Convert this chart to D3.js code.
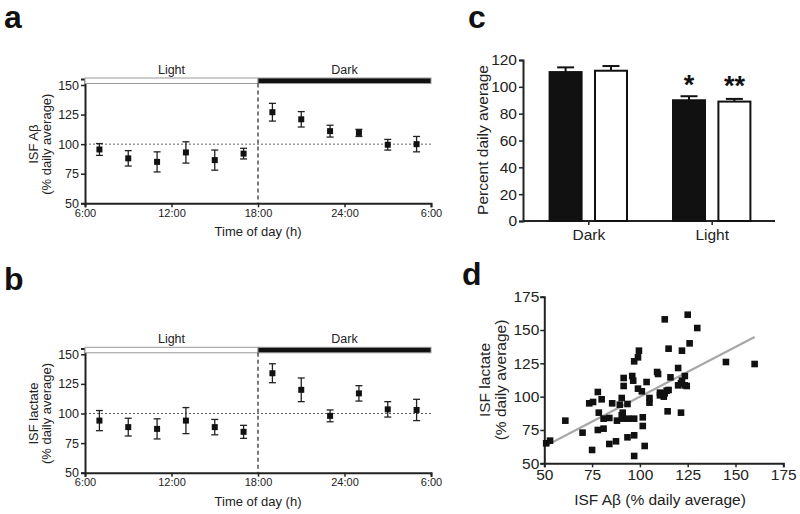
<!doctype html>
<html lang="en">
<head>
<meta charset="utf-8">
<title>ISF Abeta and lactate diurnal</title>
<script src="https://d3js.org/d3.v7.min.js"></script>
<style>
  body { margin: 0; background: #fff; }
  svg { font-family: "Liberation Sans", Arial, sans-serif; }
  .axis path, .axis line { stroke: #222; }
  .axis text { fill: #222; }
</style>
</head>
<body>
<div id="chart"></div>
<script>
// --- panel a / b : hourly time course ---
var hours = [7, 9, 11, 13, 15, 17, 19, 21, 23, 25, 27, 29];
var abMean = [95.5, 88, 85, 93, 86.5, 92, 127, 121, 111, 109.5, 99.5, 100];
var abErr = [5, 6.5, 8.5, 9, 8.5, 4.5, 7.5, 6.5, 5, 3, 4.5, 6.5];
var lacMean = [94, 88.5, 87, 94, 88.5, 84.5, 134, 120, 98, 117, 103.5, 103];
var lacErr = [8.5, 7.5, 8.5, 11, 6.5, 5.5, 8, 10, 5, 6.5, 6.5, 9];
var timeTicks = [6, 12, 18, 24, 30];
var pctTicks = [50, 75, 100, 125, 150];
var phaseNames = ["Light", "Dark"];
var phaseStart = [6, 18];
var phaseEnd = [18, 30];

// --- panel c : light/dark averages ---
var groups = ["Dark", "Light"];
var barSeries = ["ab", "lac"];
var abPhaseMean = [111, 90];
var abPhaseErr = [3.5, 3];
var lacPhaseMean = [112, 89];
var lacPhaseErr = [3.5, 2];
var abStars = ["", "*"];
var lacStars = ["", "**"];
var barTicks = [0, 20, 40, 60, 80, 100, 120];

// --- panel d : correlation ---
var scatterAb = [51, 53, 61, 70, 73.5, 75.5, 75, 78, 78.5, 78, 80, 81, 81, 84, 84, 85.5, 87.5, 88, 89.5, 90.5,
  90.5, 91, 91.5, 91.5, 91, 93.5, 93.5, 94, 96, 96.5, 97, 97, 97, 97, 99, 99.5, 99, 101, 101.5, 101.5,
  102.5, 103.5, 105, 105, 109, 109.5, 110.5, 110.5, 112.5, 113, 113, 114, 114.5, 115, 115, 116, 120, 120, 121.5, 122,
  123.5, 121.5, 122, 123.5, 124.5, 125, 126, 130, 145, 160];
var scatterLac = [65, 67, 82, 73, 95, 96, 60, 103.5, 88, 75, 98, 83.5, 76, 84, 64.5, 95, 66.5, 82, 94, 99,
  86, 83.5, 114, 108, 88, 69.5, 94.5, 83.5, 115.5, 112, 126.5, 83.5, 71, 55.5, 129.5, 134.5, 106, 104, 84.5, 78,
  63, 111, 99, 95.5, 118.5, 117, 103, 101, 100, 158, 102.5, 104.5, 89, 136, 105, 114.5, 121.5, 108.5, 110, 112,
  115.5, 88, 134.5, 108.5, 108, 161.5, 140, 151.5, 126, 124.5];
var fitAb = [51, 160];
var fitLac = [63.3, 144.8];
var scatterTicks = [50, 75, 100, 125, 150, 175];

var svg = d3.select("#chart").append("svg")
    .attr("width", 800)
    .attr("height", 514);

// panel letters
[["a", 4, 28], ["b", 4, 290], ["c", 468, 28], ["d", 462, 285]].forEach(function(l) {
  svg.append("text").attr("x", l[1]).attr("y", l[2])
    .style("font-size", "32px").style("font-weight", "bold").attr("fill", "#111")
    .text(l[0]);
});

function styleAxis(g, w) {
  g.attr("class", "axis");
  g.select(".domain").attr("stroke-width", w);
  g.selectAll(".tick line").attr("stroke-width", 1.5);
}

function timePanel(y150, y50, mean, err, label) {
  var x = d3.scaleLinear().domain([6, 30]).range([85, 431]);
  var k = (y50 - y150) / 100;
  var y = d3.scaleLinear().domain([50, 155]).range([y50, y150 - 5 * k]);
  var barTop = y150 - 7, barH = 5.5;

  var xAxis = d3.axisBottom(x).tickValues(timeTicks).tickSize(4).tickPadding(2)
    .tickFormat(function(h) { return (h > 24 ? h - 24 : h) + ":00"; });
  var gx = svg.append("g").attr("transform", "translate(0," + y50 + ")").call(xAxis);
  styleAxis(gx, 2);
  gx.selectAll("text").style("font-size", "11px");

  var yAxis = d3.axisLeft(y).tickValues(pctTicks).tickSize(4).tickPadding(2);
  var gy = svg.append("g").attr("transform", "translate(85,0)").call(yAxis);
  styleAxis(gy, 2);
  gy.selectAll("text").style("font-size", "12.5px");

  // light/dark bar
  phaseNames.forEach(function(p, i) {
    svg.append("rect")
      .attr("x", x(phaseStart[i])).attr("y", barTop)
      .attr("width", x(phaseEnd[i]) - x(phaseStart[i])).attr("height", barH)
      .attr("fill", i === 0 ? "#fff" : "#111")
      .attr("stroke", "#999").attr("stroke-width", 1);
    svg.append("text")
      .attr("x", (x(phaseStart[i]) + x(phaseEnd[i])) / 2).attr("y", barTop - 4)
      .attr("text-anchor", "middle").style("font-size", "12.5px").attr("fill", "#222")
      .text(p);
  });

  // reference lines
  svg.append("line")
    .attr("x1", x(6)).attr("x2", x(30)).attr("y1", y(100)).attr("y2", y(100))
    .attr("stroke", "#333").attr("stroke-width", 0.8).attr("stroke-dasharray", "2,2");
  svg.append("line")
    .attr("x1", x(18)).attr("x2", x(18)).attr("y1", barTop + barH).attr("y2", y50)
    .attr("stroke", "#222").attr("stroke-width", 1.2).attr("stroke-dasharray", "4,3");

  // error bars + markers
  var g = svg.append("g");
  hours.forEach(function(h, i) {
    var cx = x(h);
    g.append("line").attr("x1", cx).attr("x2", cx)
      .attr("y1", y(mean[i] + err[i])).attr("y2", y(mean[i] - err[i]))
      .attr("stroke", "#222").attr("stroke-width", 1.3);
    [mean[i] + err[i], mean[i] - err[i]].forEach(function(v) {
      g.append("line").attr("x1", cx - 3.5).attr("x2", cx + 3.5)
        .attr("y1", y(v)).attr("y2", y(v))
        .attr("stroke", "#222").attr("stroke-width", 1.3);
    });
    g.append("rect").attr("x", cx - 3).attr("y", y(mean[i]) - 3)
      .attr("width", 6).attr("height", 6).attr("fill", "#111");
  });

  // labels
  svg.append("text").attr("x", 258).attr("y", y50 + 33)
    .attr("text-anchor", "middle").style("font-size", "13px").attr("fill", "#222")
    .text("Time of day (h)");
  var cy = (y150 + y50) / 2;
  svg.append("text").attr("transform", "translate(38," + cy + ") rotate(-90)")
    .attr("text-anchor", "middle").style("font-size", "13px").attr("fill", "#222")
    .text(label);
  svg.append("text").attr("transform", "translate(51," + cy + ") rotate(-90)")
    .attr("text-anchor", "middle").style("font-size", "13px").attr("fill", "#222")
    .text("(% daily average)");
}

timePanel(85, 203.3, abMean, abErr, "ISF Aβ");
timePanel(354.3, 472.7, lacMean, lacErr, "ISF lactate");

// ---------- panel c ----------
(function() {
  var x0 = d3.scalePoint().domain(groups).range([588.3, 711.7]);
  var x1 = d3.scaleBand().domain(barSeries).range([-38.7, 38.7]).paddingInner(0.295);
  var y = d3.scaleLinear().domain([0, 120]).range([221, 60]);

  var gx = svg.append("g").attr("transform", "translate(0,221)")
    .call(d3.axisBottom(x0).tickSize(4).tickPadding(4));
  gx.select(".domain").attr("d", "M523,0H775");
  styleAxis(gx, 2);
  gx.selectAll("text").style("font-size", "15.5px");

  var gy = svg.append("g").attr("transform", "translate(523,0)")
    .call(d3.axisLeft(y).tickValues(barTicks).tickSize(4).tickPadding(2));
  styleAxis(gy, 2);
  gy.selectAll("text").style("font-size", "15.5px");

  var series = [
    { key: "ab", mean: abPhaseMean, err: abPhaseErr, stars: abStars, fill: "#111" },
    { key: "lac", mean: lacPhaseMean, err: lacPhaseErr, stars: lacStars, fill: "#fff" }
  ];
  series.forEach(function(s) {
    groups.forEach(function(gname, i) {
      var bx = x0(gname) + x1(s.key), bw = x1.bandwidth();
      var cx = bx + bw / 2;
      var top = y(s.mean[i] + s.err[i]);
      svg.append("line").attr("x1", cx).attr("x2", cx)
        .attr("y1", y(s.mean[i])).attr("y2", top)
        .attr("stroke", "#111").attr("stroke-width", 2);
      svg.append("line").attr("x1", cx - 8.5).attr("x2", cx + 8.5)
        .attr("y1", top).attr("y2", top)
        .attr("stroke", "#111").attr("stroke-width", 2);
      svg.append("rect").attr("x", bx).attr("y", y(s.mean[i]))
        .attr("width", bw).attr("height", y(0) - y(s.mean[i]))
        .attr("fill", s.fill).attr("stroke", "#111").attr("stroke-width", 2);
      if (s.stars[i]) {
        svg.append("text").attr("x", cx).attr("y", y(s.mean[i]) - 3)
          .attr("text-anchor", "middle").style("font-size", "27px").style("font-weight", "bold")
          .attr("dy", "-0.05em")
          .attr("fill", "#111").text(s.stars[i])
          .attr("transform", "translate(0,-2)");
      }
    });
  });

  svg.append("text").attr("transform", "translate(488,140) rotate(-90)")
    .attr("text-anchor", "middle").style("font-size", "15.5px").attr("fill", "#222")
    .text("Percent daily average");
})();

// ---------- panel d ----------
(function() {
  var x = d3.scaleLinear().domain([50, 175]).range([544.3, 783.3]);
  var y = d3.scaleLinear().domain([50, 175]).range([463.3, 296.7]);

  var gx = svg.append("g").attr("transform", "translate(0,463.3)")
    .call(d3.axisBottom(x).tickValues(scatterTicks).tickSize(4).tickPadding(2));
  styleAxis(gx, 2);
  gx.selectAll("text").style("font-size", "15.5px");

  var gy = svg.append("g").attr("transform", "translate(544.3,0)")
    .call(d3.axisLeft(y).tickValues(scatterTicks).tickSize(4).tickPadding(1));
  styleAxis(gy, 2);
  gy.selectAll("text").style("font-size", "15.5px");

  svg.append("line")
    .attr("x1", x(fitAb[0])).attr("y1", y(fitLac[0]))
    .attr("x2", x(fitAb[1])).attr("y2", y(fitLac[1]))
    .attr("stroke", "#a8a8a8").attr("stroke-width", 2.2);

  svg.append("g").selectAll("rect")
    .data(scatterAb)
    .enter()
    .append("rect")
      .attr("x", function(d) { return x(d) - 3.3; })
      .attr("y", function(d, i) { return y(scatterLac[i]) - 3.3; })
      .attr("width", 6.6).attr("height", 6.6)
      .attr("fill", "#111");

  svg.append("text").attr("x", 660).attr("y", 505)
    .attr("text-anchor", "middle").style("font-size", "15.5px").attr("fill", "#222")
    .text("ISF Aβ (% daily average)");
  svg.append("text").attr("transform", "translate(490,380) rotate(-90)")
    .attr("text-anchor", "middle").style("font-size", "15.5px").attr("fill", "#222")
    .text("ISF lactate");
  svg.append("text").attr("transform", "translate(506,380) rotate(-90)")
    .attr("text-anchor", "middle").style("font-size", "15.5px").attr("fill", "#222")
    .text("(% daily average)");
})();
</script>
</body>
</html>
